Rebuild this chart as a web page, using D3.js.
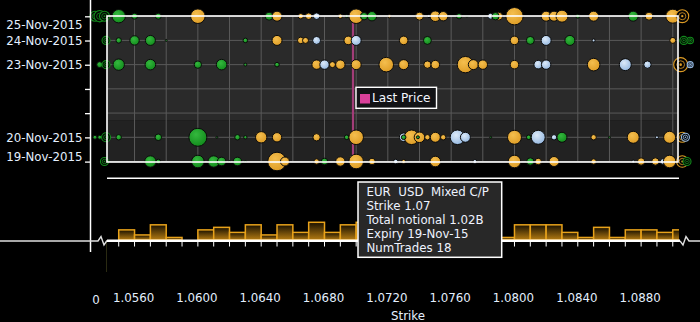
<!DOCTYPE html>
<html><head><meta charset="utf-8">
<script src="https://cdnjs.cloudflare.com/ajax/libs/d3/7.8.5/d3.min.js"></script>
<style>html,body{margin:0;padding:0;background:#000;overflow:hidden}svg{display:block}</style>
</head><body><svg id="c" width="700" height="322"></svg>
<script>
// ---------------- DATA ----------------
const expiryDates = ["2015-11-19","2015-11-20","2015-11-21","2015-11-22","2015-11-23","2015-11-24","2015-11-25"];
const labelledExpiries = ["2015-11-19","2015-11-20","2015-11-23","2015-11-24","2015-11-25"];
const strikeTickLabels = [1.056,1.060,1.064,1.068,1.072,1.076,1.080,1.084,1.088];
const gridStrikes = [1.056,1.058,1.060,1.062,1.064,1.066,1.068,1.070,1.072,1.074,1.076,1.078,1.080,1.082,1.084,1.086,1.088,1.090];
const lastPrice = 1.0698;
// [strike, total notional (millions), type]  C = call (green), P = put (blue), M = mixed C/P (orange)
const trades25Nov = [[1.0550,859,"C"],[1.0560,172,"C"],[1.0575,172,"C"],[1.0600,1020,"M"],[1.0645,306,"C"],[1.0650,479,"M"],
 [1.0665,140,"M"],[1.0670,208,"M"],[1.0675,208,"P"],[1.0690,101,"M"],[1.0694,43,"C"],[1.0700,1020,"M"],[1.0705,262,"C"],
 [1.0710,423,"C"],[1.0721,55,"M"],[1.0740,306,"M"],[1.0746,43,"P"],[1.0750,538,"M"],[1.0755,423,"M"],[1.0765,140,"C"],
 [1.0770,19,"C"],[1.0785,172,"P"],[1.0790,306,"M"],[1.0788,262,"C"],[1.0800,1449,"M"],[1.0820,479,"M"],[1.0825,479,"M"],
 [1.0830,689,"M"],[1.0840,77,"C"],[1.0850,479,"M"],[1.0875,479,"C"],[1.0885,306,"M"],[1.0900,938,"M"]];
const trades24Nov = [[1.0550,140,"C"],[1.0560,423,"C"],[1.0570,479,"C"],[1.0580,19,"C"],[1.0630,101,"C"],[1.0650,479,"M"],
 [1.0665,208,"M"],[1.0668,172,"M"],[1.0675,306,"P"],[1.0695,354,"M"],[1.0700,479,"P"],[1.0730,354,"M"],[1.0745,306,"C"],
 [1.0800,354,"M"],[1.0810,306,"C"],[1.0820,479,"P"],[1.0835,479,"C"],[1.0850,43,"P"],[1.0900,172,"M"]];
const trades23Nov = [[1.0538,172,"C"],[1.0550,622,"C"],[1.0570,538,"C"],[1.0600,262,"C"],[1.0615,538,"C"],[1.0630,43,"C"],
 [1.0650,101,"C"],[1.0675,423,"M"],[1.0680,423,"P"],[1.0685,172,"M"],[1.0690,423,"M"],[1.0700,479,"M"],[1.0719,1020,"M"],
 [1.0730,479,"M"],[1.0745,262,"M"],[1.0750,354,"M"],[1.0769,1287,"M"],[1.0774,479,"M"],[1.0780,423,"M"],[1.0800,354,"M"],
 [1.0815,354,"P"],[1.0820,423,"P"],[1.0850,760,"M"],[1.0870,689,"P"],[1.0884,262,"P"]];
const trades20Nov = [[1.0535,77,"C"],[1.0538,77,"C"],[1.0550,140,"C"],[1.0575,208,"C"],[1.0600,1550,"C"],[1.0612,19,"C"],
 [1.0625,140,"C"],[1.0630,55,"C"],[1.0640,622,"M"],[1.0650,423,"M"],[1.0675,262,"M"],[1.0694,101,"C"],[1.0700,1020,"M"],
 [1.0730,354,"P"],[1.0735,1020,"M"],[1.0740,538,"M"],[1.0730,101,"C"],[1.0739,43,"C"],[1.0745,140,"M"],[1.0750,479,"M"],
 [1.0755,140,"M"],[1.0764,1020,"P"],[1.0769,479,"P"],[1.0785,19,"C"],[1.0800,938,"M"],[1.0809,101,"C"],[1.0815,938,"P"],
 [1.0825,140,"P"],[1.0830,479,"C"],[1.0850,140,"M"],[1.0860,19,"C"],[1.0875,689,"M"],[1.0890,43,"P"],[1.0898,689,"M"]];
const trades19Nov = [[1.0570,622,"C"],[1.0575,101,"C"],[1.0600,760,"C"],[1.0610,622,"C"],[1.0615,354,"C"],[1.0620,19,"C"],
 [1.0625,354,"C"],[1.0630,19,"C"],[1.0650,1655,"M"],[1.0655,388,"M"],[1.0675,140,"M"],[1.0680,208,"C"],[1.0690,423,"M"],
 [1.0700,1020,"M"],[1.0710,208,"M"],[1.0725,101,"P"],[1.0730,77,"M"],[1.0750,538,"M"],[1.0775,77,"P"],[1.0800,760,"M"],
 [1.0810,262,"C"],[1.0815,208,"M"],[1.0825,479,"M"],[1.0850,140,"M"],[1.0875,43,"P"],[1.0880,262,"M"],[1.0889,262,"M"],
 [1.0894,172,"P"],[1.0898,760,"M"]];
// trades just outside the visible strike range: [expiry, strike, notional, type]
const edgeTrades = [["2015-11-25",1.0535,480,"C"],["2015-11-25",1.0538,620,"C"],["2015-11-25",1.0541,480,"C"],
 ["2015-11-24",1.0542,306,"C"],["2015-11-23",1.0542,306,"C"],["2015-11-20",1.0542,390,"C"],["2015-11-19",1.0541,306,"C"],
 ["2015-11-25",1.0906,800,"M"],["2015-11-24",1.0907,306,"C"],["2015-11-24",1.0911,200,"C"],["2015-11-23",1.0905,938,"M"],
 ["2015-11-23",1.0911,172,"P"],["2015-11-20",1.0906,480,"M"],["2015-11-20",1.0908,306,"P"],["2015-11-19",1.0906,620,"M"],
 ["2015-11-19",1.0909,306,"C"]];
const histBinStart = [1.055,1.056,1.057,1.058,1.059,1.060,1.061,1.062,1.063,1.064,1.065,1.066,1.067,1.068,1.069,1.070,
 1.071,1.072,1.073,1.074,1.075,1.076,1.077,1.078,1.079,1.080,1.081,1.082,1.083,1.084,1.085,1.086,1.087,1.088,1.089,1.090];
const histCounts = [4,2,6,1,0,4,5,3,6,2,6,3,7,3,6,7,5,6,4,3,7,5,4,2,1,6,6,6,3,1,5,1,4,4,3,4];
const tooltipLines = ["EUR  USD  Mixed C/P","Strike 1.07","Total notional 1.02B","Expiry 19-Nov-15","NumTrades 18"];

// ---------------- CHART ----------------
const svg = d3.select("#c");
const parse = d3.timeParse("%Y-%m-%d");
const fmtDate = d3.timeFormat("%d-%b-%Y");
const FONT = "DejaVu Sans, Verdana, sans-serif";
const FS = 11.8;
const TXT = "#e4f0ff";

const x = d3.scaleLinear().domain([1.05426, 1.09033]).range([107, 678]);
const y = d3.scaleTime().domain([parse("2015-11-19"), parse("2015-11-25")]).range([161.5, 16.2]);
const r = d3.scaleSqrt().domain([0, 1020]).range([0, 7.3]);
const hy = d3.scaleLinear().domain([0, 7]).range([240, 222.3]);

const colors = {
  C: {hi: "#34b83e", base: "#118a1b"},
  M: {hi: "#f4be4e", base: "#de9c24"},
  P: {hi: "#dceaf9", base: "#92b6df"}
};
const defs = svg.append("defs");
Object.entries(colors).forEach(([k, c]) => {
  const g = defs.append("radialGradient").attr("id", "g" + k)
    .attr("cx", "40%").attr("cy", "35%").attr("r", "70%");
  g.append("stop").attr("offset", "0%").attr("stop-color", c.hi);
  g.append("stop").attr("offset", "100%").attr("stop-color", c.base);
});
const bg = defs.append("linearGradient").attr("id", "barG").attr("x1", 0).attr("y1", 0).attr("x2", 0).attr("y2", 1);
bg.append("stop").attr("offset", "0%").attr("stop-color", "#1a1100");
bg.append("stop").attr("offset", "100%").attr("stop-color", "#b47b12");
defs.append("clipPath").attr("id", "histClip").append("rect")
  .attr("x", 107).attr("y", 190).attr("width", 572).attr("height", 60);

const X0 = x.range()[0], X1 = x.range()[1];
const Y0 = 16, Y1 = 162;
// plot background (two bands)
svg.append("rect").attr("x", X0).attr("y", Y0).attr("width", X1 - X0).attr("height", 120.7 - Y0).attr("fill", "#2a2a2a");
svg.append("rect").attr("x", X0).attr("y", 120.7).attr("width", X1 - X0).attr("height", Y1 - 120.7).attr("fill", "#222222");

// grid
const grid = svg.append("g").attr("stroke", "#5a5a5a").attr("stroke-width", 1);
gridStrikes.forEach(s => grid.append("line").attr("x1", x(s)).attr("x2", x(s)).attr("y1", Y0).attr("y2", Y1));
expiryDates.forEach(d => grid.append("line").attr("x1", X0).attr("x2", X1).attr("y1", y(parse(d))).attr("y2", y(parse(d))));

// last price line
svg.append("line").attr("x1", x(lastPrice)).attr("x2", x(lastPrice)).attr("y1", Y0).attr("y2", Y1)
  .attr("stroke", "#a23d78").attr("stroke-width", 2.2);

// bubbles
const rows = [["2015-11-25", trades25Nov], ["2015-11-24", trades24Nov], ["2015-11-23", trades23Nov],
              ["2015-11-20", trades20Nov], ["2015-11-19", trades19Nov]];
const bub = svg.append("g");
rows.forEach(([d, list]) => {
  const cy = y(parse(d));
  bub.selectAll(null).data(list).enter().append("circle")
    .attr("cx", t => x(t[0])).attr("cy", cy).attr("r", t => r(t[1]))
    .attr("fill", t => `url(#g${t[2]})`).attr("stroke", "#0b0b0b").attr("stroke-width", 1);
});
// edge (out of range) markers
const edge = svg.append("g");
edgeTrades.forEach(t => {
  const cx = x(t[1]), cy = y(parse(t[0])), rr = r(t[2]), col = colors[t[3]].base;
  edge.append("circle").attr("cx", cx).attr("cy", cy).attr("r", rr).attr("fill", "#040404").attr("stroke", col).attr("stroke-width", 1.1);
  edge.append("circle").attr("cx", cx).attr("cy", cy).attr("r", rr * 0.55).attr("fill", "none").attr("stroke", col).attr("stroke-width", 0.8);
  edge.append("circle").attr("cx", cx).attr("cy", cy).attr("r", Math.max(0.8, rr * 0.18)).attr("fill", col);
});

// plot border
svg.append("rect").attr("x", X0).attr("y", Y0).attr("width", X1 - X0).attr("height", Y1 - Y0)
  .attr("fill", "none").attr("stroke", "#ffffff").attr("stroke-width", 1.6);

// last price legend
const lg = svg.append("g");
lg.append("rect").attr("x", 356).attr("y", 87.3).attr("width", 80.5).attr("height", 21)
  .attr("fill", "#121316").attr("stroke", "#fff").attr("stroke-width", 1.4);
lg.append("rect").attr("x", 360).attr("y", 94).attr("width", 10).attr("height", 9.5).attr("fill", "#d9409a");
lg.append("text").attr("x", 372).attr("y", 98).attr("dy", "0.35em").text("Last Price")
  .attr("font-family", FONT).attr("font-size", 12.1).attr("fill", "#f2f6ff");

// y axis
svg.append("line").attr("x1", 90.5).attr("x2", 90.5).attr("y1", 0).attr("y2", 252).attr("stroke", "#fff").attr("stroke-width", 1.5);
expiryDates.forEach(d => {
  const yy = y(parse(d)) + 0.6;
  svg.append("line").attr("x1", 85).attr("x2", 90).attr("y1", yy).attr("y2", yy).attr("stroke", "#fff").attr("stroke-width", 1.3);
});
labelledExpiries.forEach(d => {
  const yy = Math.min(157, Math.max(25, y(parse(d)) + 0.5));
  svg.append("text").attr("x", 82.5).attr("y", yy).attr("dy", "0.35em").attr("text-anchor", "end")
    .attr("font-family", FONT).attr("font-size", FS).attr("fill", TXT).text(fmtDate(parse(d)));
});

// separator line
svg.append("line").attr("x1", X0).attr("x2", 679).attr("y1", 178.3).attr("y2", 178.3).attr("stroke", "#fff").attr("stroke-width", 1.5);

// histogram
const hg = svg.append("g").attr("clip-path", "url(#histClip)");
histBinStart.forEach((b, i) => {
  if (!histCounts[i]) return;
  const x0 = x(b), x1 = x(b + 0.001);
  hg.append("rect").attr("x", x0).attr("y", hy(histCounts[i])).attr("width", x1 - x0).attr("height", hy(0) - hy(histCounts[i]))
    .attr("fill", "url(#barG)").attr("stroke", "#e8a21a").attr("stroke-width", 1.5);
});
// histogram axis
svg.append("line").attr("x1", 106.5).attr("x2", 106.5).attr("y1", 240).attr("y2", 272).attr("stroke", "#2a2a12").attr("stroke-width", 1);
svg.append("path").attr("d", "M0,241 L98,241 L101,236.5 L104,245 L107,240.5").attr("fill", "none").attr("stroke", "#e0e0e0").attr("stroke-width", 1.4);
svg.append("line").attr("x1", 107).attr("x2", 680).attr("y1", 240.8).attr("y2", 240.8).attr("stroke", "#fff").attr("stroke-width", 2.6);
svg.append("path").attr("d", "M680,240.8 L683,245 L686,236.5 L689,241 L700,241").attr("fill", "none").attr("stroke", "#e0e0e0").attr("stroke-width", 1.4);
histBinStart.forEach(b => {
  svg.append("line").attr("x1", x(b)).attr("x2", x(b)).attr("y1", 241).attr("y2", 246.5).attr("stroke", "#fff").attr("stroke-width", 1);
});

// x labels
strikeTickLabels.forEach(s => {
  svg.append("text").attr("x", x(s) - 1).attr("y", 298).attr("dy", "0.35em").attr("text-anchor", "middle")
    .attr("font-family", FONT).attr("font-size", FS).attr("fill", TXT).text(d3.format(".4f")(s));
});
svg.append("text").attr("x", 96).attr("y", 299.5).attr("dy", "0.35em").attr("text-anchor", "middle")
  .attr("font-family", FONT).attr("font-size", FS).attr("fill", TXT).text("0");
svg.append("text").attr("x", 408).attr("y", 315.5).attr("dy", "0.35em").attr("text-anchor", "middle")
  .attr("font-family", FONT).attr("font-size", FS).attr("fill", TXT).text("Strike");

// tooltip
const tt = svg.append("g");
tt.append("rect").attr("x", 358).attr("y", 182).attr("width", 143.7).attr("height", 75.3)
  .attr("fill", "#282828").attr("stroke", "#fff").attr("stroke-width", 1.5);
tooltipLines.forEach((l, i) => {
  tt.append("text").attr("x", 366.5).attr("y", 191.8 + i * 14).attr("dy", "0.35em")
    .attr("font-family", FONT).attr("font-size", FS).attr("fill", "#eef3ff")
    .style("white-space", "pre").text(l);
});
</script></body></html>
